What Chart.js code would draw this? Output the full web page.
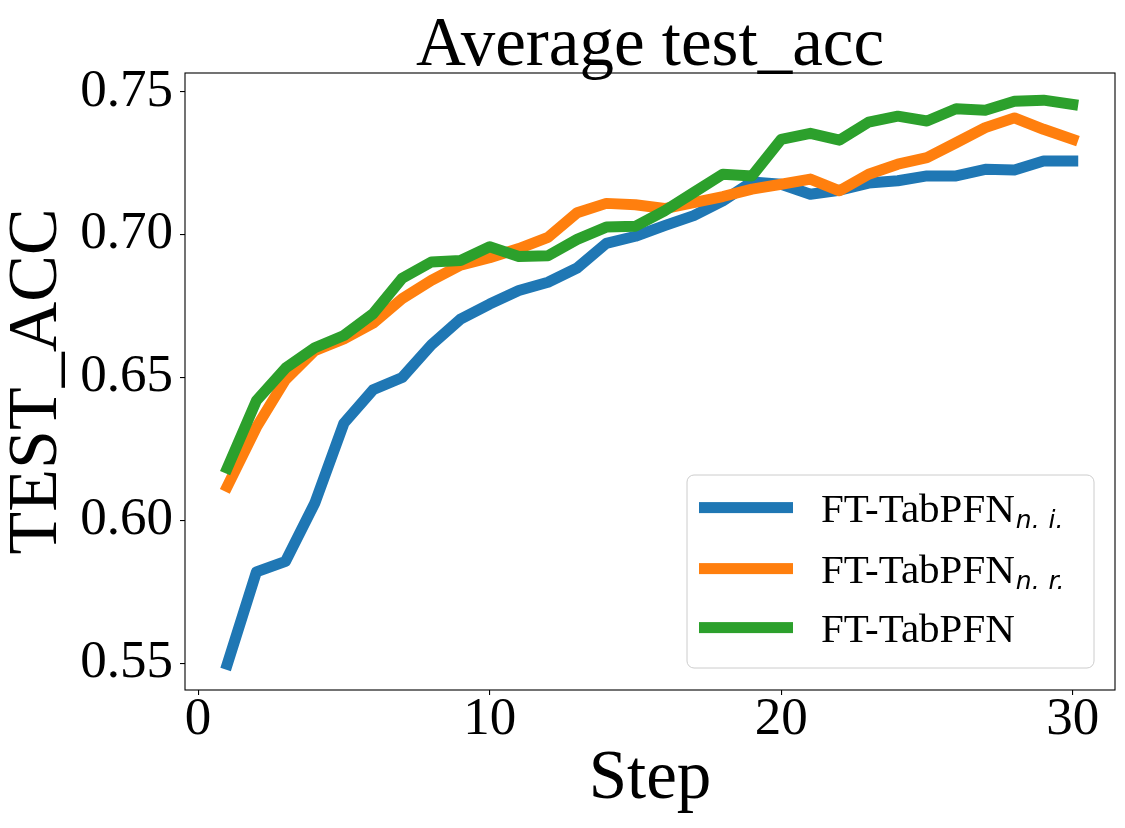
<!DOCTYPE html>
<html>
<head>
<meta charset="utf-8">
<script src="https://cdn.jsdelivr.net/npm/chart.js@4.4.1/dist/chart.umd.min.js"></script>
<style>
  html, body { margin: 0; padding: 0; background: #fff; }
  #wrap { width: 1125px; height: 828px; }
</style>
</head>
<body>
<div id="wrap"><canvas id="accChart" width="1125" height="828"></canvas></div>
<script>
// data
const steps = [1, 2, 3, 4, 5, 6, 7, 8, 9, 10, 11, 12, 13, 14, 15, 16, 17, 18, 19, 20, 21, 22, 23, 24, 25, 26, 27, 28, 29, 30];
const accNoInit = [0.5497, 0.5820, 0.5857, 0.6060, 0.6340, 0.6457, 0.6500, 0.6614, 0.6704, 0.6757,
                   0.6804, 0.6833, 0.6883, 0.6969, 0.6994, 0.7031, 0.7066, 0.7118, 0.7184, 0.7176,
                   0.7141, 0.7155, 0.7180, 0.7188, 0.7205, 0.7205, 0.7228, 0.7226, 0.7257, 0.7257];
const accNoReg = [0.6119, 0.6326, 0.6493, 0.6594, 0.6635, 0.6690, 0.6776, 0.6840, 0.6893, 0.6919,
                  0.6951, 0.6990, 0.7076, 0.7109, 0.7104, 0.7091, 0.7112, 0.7133, 0.7159, 0.7176,
                  0.7194, 0.7153, 0.7211, 0.7246, 0.7269, 0.7321, 0.7374, 0.7408, 0.7368, 0.7333];
const accFull = [0.6183, 0.6419, 0.6533, 0.6604, 0.6647, 0.6723, 0.6847, 0.6904, 0.6909, 0.6957,
                 0.6923, 0.6926, 0.6983, 0.7026, 0.7029, 0.7083, 0.7147, 0.7211, 0.7205, 0.7333,
                 0.7354, 0.7330, 0.7393, 0.7414, 0.7397, 0.7440, 0.7435, 0.7466, 0.7470, 0.7455];

const seriesNames = ['FT-TabPFN', 'FT-TabPFN', 'FT-TabPFN'];
const seriesSubs = [['n.', 'i.'], ['n.', 'r.'], []];
const seriesColors = ['#1f77b4', '#ff7f0e', '#2ca02c'];

const xTicks = [0, 10, 20, 30];
const yTicks = [0.55, 0.60, 0.65, 0.70, 0.75];

const chartTitle = 'Average test_acc';
const xLabel = 'Step';
const yLabel = 'TEST_ACC';

const SERIF = "'Liberation Serif', 'Times New Roman', serif";

function toPoints(ys) {
    return steps.map((s, i) => ({ x: s, y: ys[i] }));
}

// axes frame (all four spines, like matplotlib)
const framePlugin = {
    id: 'frame',
    afterDatasetsDraw(chart) {
        const { ctx, chartArea: a } = chart;
        ctx.save();
        ctx.strokeStyle = '#000';
        ctx.lineWidth = 1.1;
        ctx.strokeRect(a.left, a.top, a.right - a.left, a.bottom - a.top);
        ctx.restore();
    }
};

// title centred over the axes, not the canvas
const titlePlugin = {
    id: 'axTitle',
    afterDraw(chart) {
        const { ctx, chartArea: a } = chart;
        ctx.save();
        ctx.font = '69px ' + SERIF;
        ctx.fillStyle = '#000';
        ctx.textAlign = 'center';
        ctx.textBaseline = 'alphabetic';
        ctx.fillText(chartTitle, (a.left + a.right) / 2, a.top - 8);
        ctx.restore();
    }
};

// legend box in the lower right, with italic subscripts
const legendPlugin = {
    id: 'subLegend',
    afterDraw(chart) {
        const { ctx, chartArea: a } = chart;
        const mainFont = '41px ' + SERIF;
        const subFont = "italic 25px 'DejaVu Sans', sans-serif";
        const boxW = 407;
        const boxH = 193;
        const right = a.right - 21;
        const bottom = a.bottom - 22;
        const left = right - boxW;
        const top = bottom - boxH;

        ctx.save();
        ctx.beginPath();
        ctx.roundRect(left, top, boxW, boxH, 7);
        ctx.fillStyle = 'rgba(255,255,255,0.8)';
        ctx.fill();
        ctx.strokeStyle = '#cccccc';
        ctx.lineWidth = 1;
        ctx.stroke();

        const rowBase = [46.6, 107.6, 166.6];
        seriesNames.forEach((name, i) => {
            const base = top + rowBase[i];
            ctx.fillStyle = seriesColors[i];
            ctx.fillRect(left + 12, base - 14 - 5.5, 94, 11);
            ctx.fillStyle = '#000';
            ctx.textBaseline = 'alphabetic';
            ctx.textAlign = 'left';
            ctx.font = mainFont;
            ctx.fillText(name, left + 134, base);
            let x = left + 134 + ctx.measureText(name).width + 1;
            ctx.font = subFont;
            seriesSubs[i].forEach(part => {
                ctx.fillText(part, x, base + 6);
                x += ctx.measureText(part).width + 9;
            });
        });
        ctx.restore();
    }
};

const lineStyle = {
    borderWidth: 11,
    pointRadius: 0,
    pointHoverRadius: 0,
    tension: 0,
    fill: false,
    borderCapStyle: 'square',
    borderJoinStyle: 'round'
};

const ctx = document.getElementById('accChart');
new Chart(ctx, {
    type: 'line',
    data: {
        datasets: [
            { label: 'FT-TabPFN n.i.', data: toPoints(accNoInit), borderColor: seriesColors[0], order: 3, ...lineStyle },
            { label: 'FT-TabPFN n.r.', data: toPoints(accNoReg), borderColor: seriesColors[1], order: 2, ...lineStyle },
            { label: 'FT-TabPFN', data: toPoints(accFull), borderColor: seriesColors[2], order: 1, ...lineStyle }
        ]
    },
    options: {
        responsive: false,
        animation: false,
        devicePixelRatio: 1,
        layout: { padding: { top: 73, right: 10, bottom: 0, left: 0 } },
        plugins: {
            legend: { display: false },
            tooltip: { enabled: false },
            title: { display: false }
        },
        scales: {
            x: {
                type: 'linear',
                min: -0.45,
                max: 31.45,
                afterBuildTicks: s => { s.ticks = xTicks.map(v => ({ value: v })); },
                afterFit: s => { s.height = 138; },
                border: { display: false },
                grid: { drawOnChartArea: false, drawTicks: true, tickLength: 5, color: '#000', lineWidth: 1.1 },
                ticks: {
                    autoSkip: false,
                    maxRotation: 0,
                    padding: -7,
                    color: '#000',
                    font: { family: SERIF, size: 53 },
                    callback: v => String(v)
                },
                title: {
                    display: true,
                    text: xLabel,
                    color: '#000',
                    font: { family: SERIF, size: 69, lineHeight: 1.2 },
                    padding: { top: 0, bottom: 7 }
                }
            },
            y: {
                min: 0.5407,
                max: 0.7565,
                afterBuildTicks: s => { s.ticks = yTicks.map(v => ({ value: v })); },
                afterFit: s => { s.width = 185; },
                border: { display: false },
                grid: { drawOnChartArea: false, drawTicks: true, tickLength: 5, color: '#000', lineWidth: 1.1 },
                ticks: {
                    autoSkip: false,
                    padding: 7,
                    color: '#000',
                    font: { family: SERIF, size: 53 },
                    callback: v => v.toFixed(2)
                },
                title: {
                    display: true,
                    text: yLabel,
                    color: '#000',
                    font: { family: SERIF, size: 70, lineHeight: 1.08 },
                    padding: { top: 0, bottom: 0 }
                }
            }
        }
    },
    plugins: [framePlugin, titlePlugin, legendPlugin]
});
</script>
</body>
</html>
